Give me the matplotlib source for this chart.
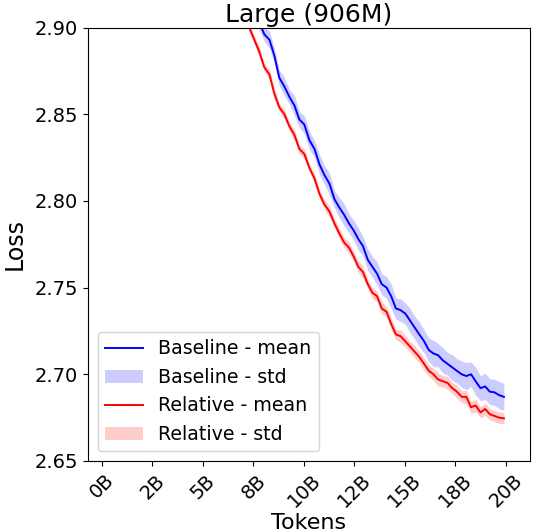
import matplotlib
matplotlib.use("Agg")
import matplotlib.pyplot as plt
import numpy as np

# Tokens (billions)
tokens = [7.05, 7.29, 7.54, 7.79, 8.04, 8.29, 8.53, 8.78, 9.03, 9.28, 9.53, 9.77, 10.02, 10.27,
          10.52, 10.77, 11.01, 11.26, 11.51, 11.76, 11.99, 12.23, 12.46, 12.69, 12.92, 13.16,
          13.39, 13.62, 13.85, 14.09, 14.32, 14.55, 14.78, 15.02, 15.25, 15.48, 15.71, 15.95,
          16.18, 16.41, 16.64, 16.88, 17.11, 17.34, 17.57, 17.81, 18.04, 18.27, 18.50, 18.74,
          18.97, 19.20, 19.43, 19.66, 19.90]

baseline_mean = [2.935, 2.925, 2.912, 2.903, 2.896, 2.893, 2.884, 2.871, 2.866, 2.860, 2.855,
                 2.847, 2.844, 2.835, 2.830, 2.821, 2.815, 2.810, 2.801, 2.796, 2.792, 2.787,
                 2.783, 2.778, 2.774, 2.766, 2.762, 2.758, 2.752, 2.750, 2.745, 2.738, 2.737,
                 2.735, 2.731, 2.727, 2.723, 2.719, 2.714, 2.712, 2.711, 2.708, 2.706, 2.704,
                 2.702, 2.700, 2.699, 2.700, 2.696, 2.692, 2.693, 2.690, 2.6896, 2.688, 2.687]

baseline_std = [0.0040, 0.0040, 0.0042, 0.0045, 0.0040, 0.0050, 0.0042, 0.0046, 0.0052, 0.0043,
                0.0058, 0.0046, 0.0052, 0.0055, 0.0048, 0.0058, 0.0054, 0.0062, 0.0050, 0.0058,
                0.0064, 0.0054, 0.0058, 0.0066, 0.0056, 0.0062, 0.0060, 0.0068, 0.0060, 0.0064,
                0.0070, 0.0060, 0.0066, 0.0062, 0.0070, 0.0066, 0.0072, 0.0066, 0.0068, 0.0076,
                0.0068, 0.0072, 0.0066, 0.0074, 0.0070, 0.0076, 0.0078, 0.0070, 0.0080, 0.0072,
                0.0076, 0.0074, 0.0076, 0.0078, 0.0078]

relative_mean = [2.912, 2.900, 2.893, 2.886, 2.877, 2.873, 2.862, 2.854, 2.850, 2.843, 2.838,
                 2.830, 2.827, 2.819, 2.813, 2.804, 2.798, 2.794, 2.787, 2.781, 2.776, 2.773,
                 2.768, 2.762, 2.759, 2.752, 2.747, 2.745, 2.738, 2.736, 2.729, 2.723, 2.722,
                 2.719, 2.716, 2.713, 2.710, 2.706, 2.702, 2.700, 2.697, 2.696, 2.695, 2.692,
                 2.690, 2.687, 2.687, 2.681, 2.682, 2.678, 2.680, 2.677, 2.676, 2.675, 2.6746]

relative_std = [0.0024, 0.0028, 0.0024, 0.0032, 0.0024, 0.0028, 0.0034, 0.0024, 0.0030, 0.0024,
                0.0034, 0.0026, 0.0030, 0.0024, 0.0032, 0.0026, 0.0030, 0.0034, 0.0026, 0.0032,
                0.0028, 0.0034, 0.0028, 0.0032, 0.0036, 0.0028, 0.0034, 0.0030, 0.0036, 0.0030,
                0.0034, 0.0030, 0.0036, 0.0033, 0.0030, 0.0036, 0.0032, 0.0038, 0.0032, 0.0035,
                0.0038, 0.0032, 0.0037, 0.0033, 0.0038, 0.0034, 0.0039, 0.0034, 0.0036, 0.0032,
                0.0037, 0.0034, 0.0032, 0.0034, 0.0032]

xtick_pos = [0, 2.5, 5, 7.5, 10, 12.5, 15, 17.5, 20]
xtick_labels = ["0B", "2B", "5B", "8B", "10B", "12B", "15B", "18B", "20B"]

t = np.array(tokens)
bm, bs = np.array(baseline_mean), np.array(baseline_std)
rm, rs = np.array(relative_mean), np.array(relative_std)

fig = plt.figure(figsize=(5.39, 5.32), dpi=100)
ax = fig.add_axes([88 / 539, (532 - 461) / 532, (530 - 88) / 539, (461 - 27.5) / 532])

ax.plot(t, bm, color="blue", lw=1.4, label="Baseline - mean")
ax.fill_between(t, bm - bs, bm + bs, color="blue", alpha=0.2, lw=0, label="Baseline - std")
ax.plot(t, rm, color="red", lw=1.4, label="Relative - mean")
ax.fill_between(t, rm - rs, rm + rs, color="red", alpha=0.2, lw=0, label="Relative - std")

ax.set_xlim(-0.69, 21.19)
ax.set_ylim(2.65, 2.90)
ax.set_yticks([2.65, 2.70, 2.75, 2.80, 2.85, 2.90])
ax.set_yticklabels(["2.65", "2.70", "2.75", "2.80", "2.85", "2.90"])
ax.set_xticks(xtick_pos)
ax.set_xticklabels(xtick_labels, rotation=45)
ax.tick_params(labelsize=14)
ax.set_xlabel("Tokens", fontsize=16, labelpad=1)
ax.set_ylabel("Loss", fontsize=17, labelpad=6)
ax.set_title("Large (906M)", fontsize=18, pad=2)
ax.legend(loc="lower left", fontsize=13.7)

fig.savefig("out.png", dpi=100)
